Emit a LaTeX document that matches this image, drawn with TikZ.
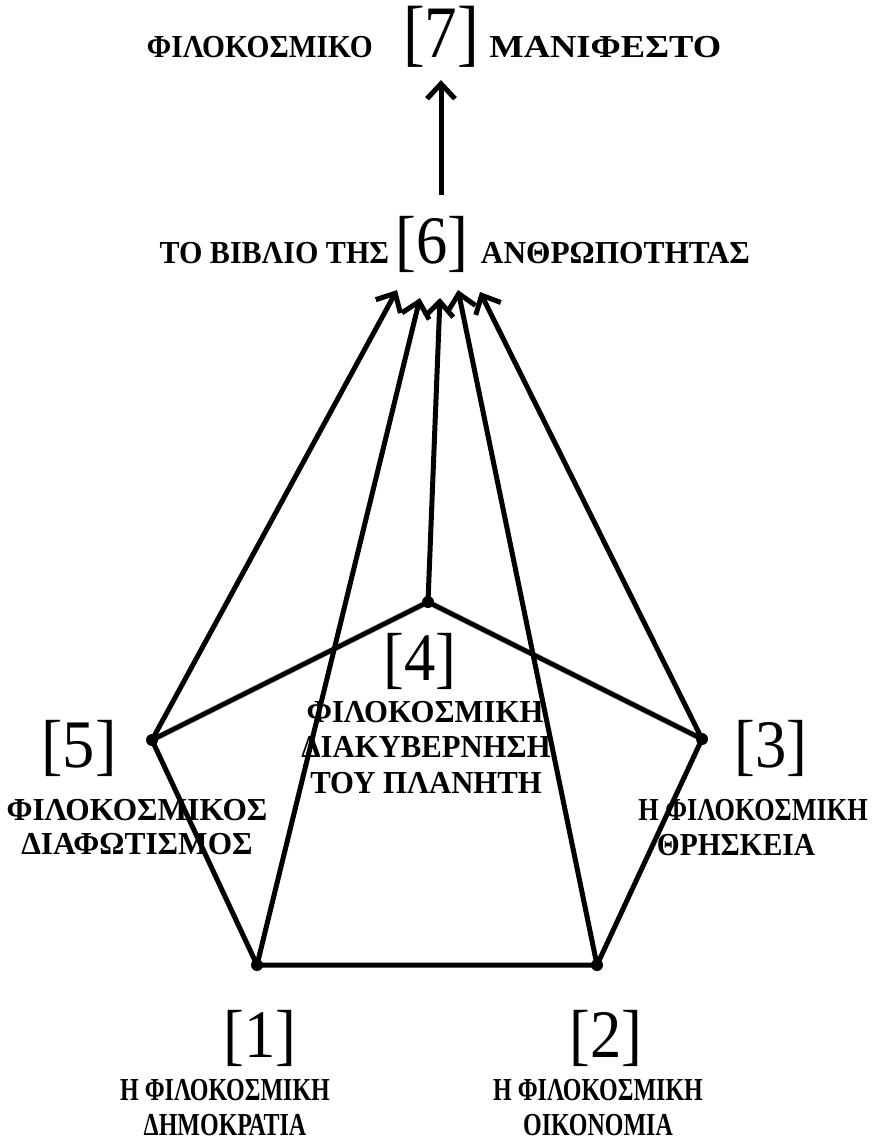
\documentclass[tikz,border=0pt]{standalone}
\usepackage{fontspec}
\setmainfont{Liberation Serif}
\usetikzlibrary{arrows.meta}
% horizontal squeeze or stretch of a text
\newcommand{\sx}[2]{\scalebox{#1}[1]{#2}}

\begin{document}
\begin{tikzpicture}[x=1pt, y=-1pt,
	num/.style={font=\fontsize{68}{68}\selectfont, inner sep=0pt, anchor=base},
	lbl/.style={font=\fontsize{32}{34}\selectfont\bfseries, inner sep=0pt, anchor=base},
	side/.style={line width=5pt, line cap=round, line join=round},
	ray/.style={line width=5pt, -{Straight Barb[length=15pt, width=28pt]}},
	vtx/.style={circle, fill, inner sep=0pt, minimum size=12pt}]
	\useasboundingbox (0,0) rectangle (873,1140);
	% top: [7]
	\node[num, font=\fontsize{74}{74}\selectfont] (n7) at (441,58) {\sx{0.88}{[7]}};
	\node[lbl, anchor=base east] (w7a) at ([xshift=-30pt]n7.base west) {\sx{0.92}{ΦΙΛΟΚΟΣΜΙΚΟ}};
	\node[lbl, anchor=base west] (w7b) at ([xshift=10pt]n7.base east) {\sx{1.14}{ΜΑΝΙΦΕΣΤΟ}};
	% [6]
	\node[num] (n6) at (432,263) {\sx{0.92}{[6]}};
	\node[lbl, anchor=base east] (w6a) at ([xshift=-6pt]n6.base west) {\sx{0.94}{ΤΟ ΒΙΒΛΙΟ ΤΗΣ}};
	\node[lbl, anchor=base west] (w6b) at ([xshift=12pt]n6.base east) {\sx{0.98}{ΑΝΘΡΩΠΟΤΗΤΑΣ}};
	% labels of the five corners
	\node[num] (n4) at (420,680) {\sx{0.92}{[4]}};
	\node[lbl] (w4a) at (425,722) {\sx{0.96}{ΦΙΛΟΚΟΣΜΙΚΗ}};
	\node[lbl] (w4b) at (426,757) {\sx{0.96}{ΔΙΑΚΥΒΕΡΝΗΣΗ}};
	\node[lbl] (w4c) at (426,793) {\sx{0.96}{ΤΟΥ ΠΛΑΝΗΤΗ}};
	\node[num] (n5) at (79,767) {\sx{0.95}{[5]}};
	\node[lbl] (w5a) at (137,820) {\sx{0.98}{ΦΙΛΟΚΟΣΜΙΚΟΣ}};
	\node[lbl] (w5b) at (137,854) {\sx{0.98}{ΔΙΑΦΩΤΙΣΜΟΣ}};
	\node[num] (n3) at (771,767) {\sx{0.92}{[3]}};
	\node[lbl] (w3a) at (753,820) {\sx{0.82}{Η ΦΙΛΟΚΟΣΜΙΚΗ}};
	\node[lbl] (w3b) at (736,855) {\sx{0.92}{ΘΡΗΣΚΕΙΑ}};
	\node[num] (n1) at (260,1057) {\sx{0.92}{[1]}};
	\node[lbl] (w1a) at (225,1100) {\sx{0.75}{Η ΦΙΛΟΚΟΣΜΙΚΗ}};
	\node[lbl] (w1b) at (225,1135) {\sx{0.75}{ΔΗΜΟΚΡΑΤΙΑ}};
	\node[num] (n2) at (606,1057) {\sx{0.92}{[2]}};
	\node[lbl] (w2a) at (598,1100) {\sx{0.75}{Η ΦΙΛΟΚΟΣΜΙΚΗ}};
	\node[lbl] (w2b) at (598,1135) {\sx{0.75}{ΟΙΚΟΝΟΜΙΑ}};
	% corners
	\node[vtx] (v1) at (257,965) {};
	\node[vtx] (v2) at (597,965) {};
	\node[vtx] (v3) at (702,739) {};
	\node[vtx] (v4) at (428,602) {};
	\node[vtx] (v5) at (152,740) {};
	\draw[side] (v1.center) -- (v2.center) -- (v3.center) -- (v4.center) -- (v5.center) -- cycle;
	% rays into [6]
	\coordinate (t5) at (397,290);
	\coordinate (t1) at (420,298);
	\coordinate (t4) at (440,298);
	\coordinate (t2) at (458,290);
	\coordinate (t3) at (480,292);
	\foreach \v in {1,...,5}
		\draw[ray] (v\v.center) -- (t\v);
	% [6] -> [7]
	\coordinate (s7) at (441,195);
	\draw[ray, shorten >=12pt] (s7) -- (n7.south);
\end{tikzpicture}
\end{document}
